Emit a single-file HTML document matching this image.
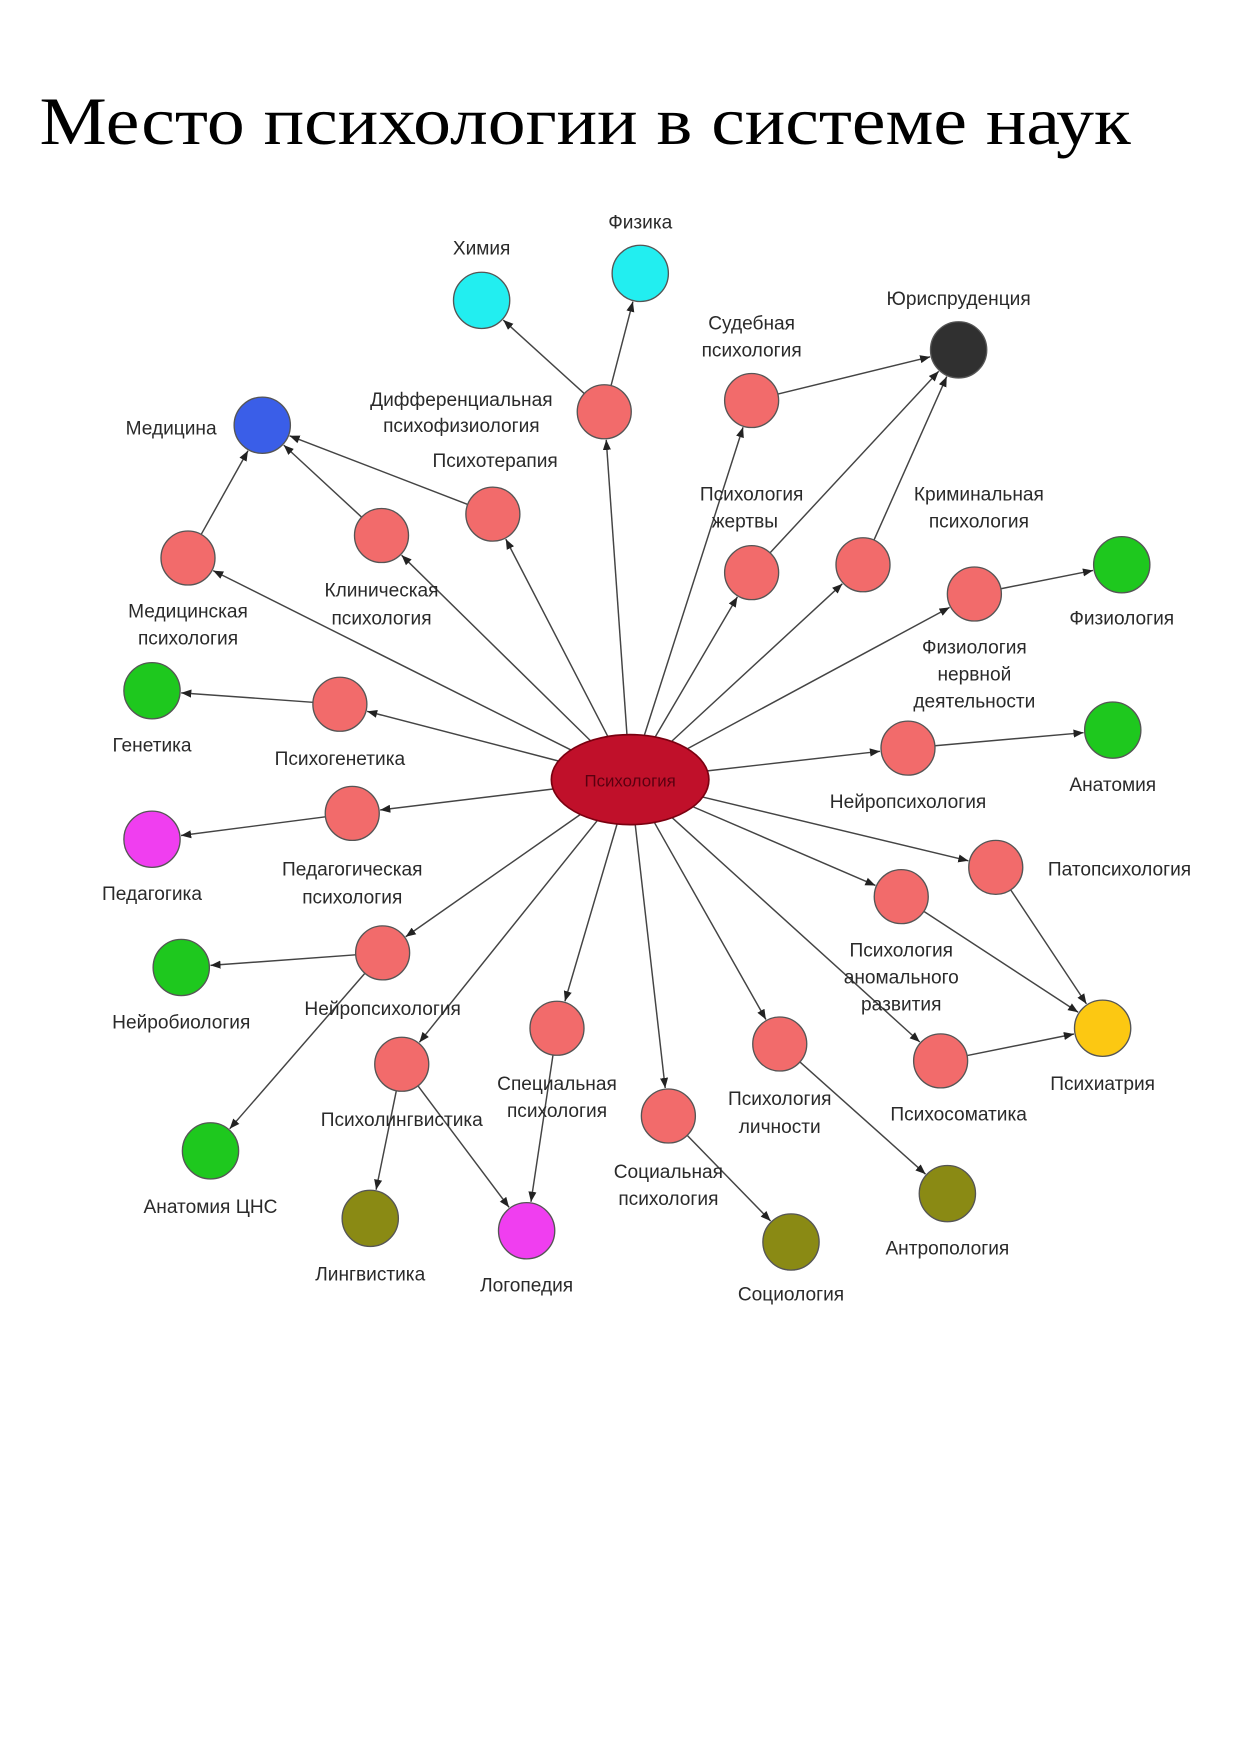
<!DOCTYPE html>
<html><head><meta charset="utf-8"><style>
html,body{margin:0;padding:0;background:#fff;width:1240px;height:1755px;overflow:hidden}
svg{display:block}
.l{font-family:"Liberation Sans",sans-serif;font-size:17px;fill:#2a2a2a;text-anchor:middle}
</style></head><body>
<svg id="s" width="1240" height="1755" viewBox="0 0 1102 1560" xmlns="http://www.w3.org/2000/svg">
<defs><marker id="a" viewBox="0 0 10 10" refX="10" refY="5" markerWidth="9" markerHeight="9" orient="auto" markerUnits="userSpaceOnUse"><path d="M0,1 L10,5 L0,9 z" fill="#222"/></marker></defs>
<text x="35" y="128" font-family="'Liberation Serif',serif" font-size="60" fill="#000" textLength="970" lengthAdjust="spacingAndGlyphs">Место психологии в системе наук</text>
<g id="edges" stroke="#444" stroke-width="1.3" fill="none"></g>
<g id="nodes"></g>
<g id="labels"></g>
</svg>
<script>
var P="#f26b6b",G="#1ec81e",C="#22eef0",M="#f03ef0",O="#8a8a14";
var N={
c:[560,693,0,"#c0102a"],
him:[428,267,25,C],fiz:[569,243,25,C],jur:[852,311,25,"#303030"],med:[233,378,25,"#3a5ee8"],
dif:[537,366,24,P],sud:[668,356,24,P],pst:[438,457,24,P],kli:[339,476,24,P],mdp:[167,496,24,P],
zh:[668,509,24,P],kri:[767,502,24,P],fnd:[866,528,24,P],fzl:[997,502,25,G],gen:[135,614,25,G],
psg:[302,626,24,P],npr:[807,665,24,P],ana:[989,649,25,G],ped:[135,746,25,M],pdp:[313,723,24,P],
pat:[885,771,24,P],ano:[801,797,24,P],nbi:[161,860,25,G],npl:[340,847,24,P],psi:[980,914,25,"#fcc812"],
pss:[836,943,24,P],lic:[693,928,24,P],spe:[495,914,24,P],pli:[357,946,24,P],soc:[594,992,24,P],
acn:[187,1023,25,G],lin:[329,1083,25,O],log:[468,1094,25,M],sol:[703,1104,25,O],ant:[842,1061,25,O]};
var E=[["dif","him"],["dif","fiz"],["sud","jur"],["zh","jur"],["kri","jur"],["mdp","med"],["kli","med"],["pst","med"],
["fnd","fzl"],["psg","gen"],["npr","ana"],["pdp","ped"],["npl","nbi"],["npl","acn"],["pat","psi"],["ano","psi"],["pss","psi"],
["lic","ant"],["pli","lin"],["pli","log"],["spe","log"],["soc","sol"]];
["dif","sud","pst","kli","mdp","zh","kri","fnd","psg","npr","pdp","pat","ano","npl","pss","lic","spe","pli","soc"].forEach(function(k){E.push(["c",k])});
var ns="http://www.w3.org/2000/svg";
function el(t,a,p){var e=document.createElementNS(ns,t);for(var k in a)e.setAttribute(k,a[k]);document.getElementById(p).appendChild(e);return e}
E.forEach(function(e){var a=N[e[0]],b=N[e[1]];var dx=b[0]-a[0],dy=b[1]-a[1],d=Math.hypot(dx,dy);var ux=dx/d,uy=dy/d;
var ra=a[2];if(e[0]=="c"){var t=Math.atan2(dy,dx);ra=1/Math.sqrt(Math.pow(Math.cos(t)/70,2)+Math.pow(Math.sin(t)/40,2));}
el("line",{x1:a[0]+ux*ra,y1:a[1]+uy*ra,x2:b[0]-ux*(b[2]+1),y2:b[1]-uy*(b[2]+1),"marker-end":"url(#a)"},"edges")});
for(var k in N){var n=N[k];if(k=="c")el("ellipse",{cx:n[0],cy:n[1],rx:70,ry:40,fill:n[3],stroke:"#7a0010","stroke-width":1.5},"nodes");
else el("circle",{cx:n[0],cy:n[1],r:n[2],fill:n[3],stroke:"#555","stroke-width":1.2},"nodes");}
var L=[[428,226,"Химия"],[569,203,"Физика"],[852,271,"Юриспруденция"],[152,386,"Медицина"],[410,361,"Дифференциальная"],[410,384,"психофизиология"],
[668,293,"Судебная"],[668,317,"психология"],[440,415,"Психотерапия"],[339,530,"Клиническая"],[339,555,"психология"],[167,549,"Медицинская"],[167,573,"психология"],
[668,445,"Психология"],[662,469,"жертвы"],[870,445,"Криминальная"],[870,469,"психология"],[866,581,"Физиология"],[866,605,"нервной"],[866,629,"деятельности"],
[997,555,"Физиология"],[135,668,"Генетика"],[302,680,"Психогенетика"],[807,718,"Нейропсихология"],[989,703,"Анатомия"],[135,800,"Педагогика"],
[313,778,"Педагогическая"],[313,803,"психология"],[995,778,"Патопсихология"],[801,850,"Психология"],[801,874,"аномального"],[801,898,"развития"],
[161,914,"Нейробиология"],[340,902,"Нейропсихология"],[980,969,"Психиатрия"],[852,996,"Психосоматика"],[693,982,"Психология"],[693,1007,"личности"],
[495,969,"Специальная"],[495,993,"психология"],[357,1001,"Психолингвистика"],[594,1047,"Социальная"],[594,1071,"психология"],[187,1078,"Анатомия ЦНС"],
[329,1138,"Лингвистика"],[468,1148,"Логопедия"],[703,1156,"Социология"],[842,1115,"Антропология"]];
L.forEach(function(l){var t=el("text",{x:l[0],y:l[1],"class":"l"},"labels");t.textContent=l[2]});
var t=el("text",{x:560,y:699,"class":"l",style:"fill:#5a0010;font-size:15px"},"labels");t.textContent="Психология";
</script>
</body></html>
